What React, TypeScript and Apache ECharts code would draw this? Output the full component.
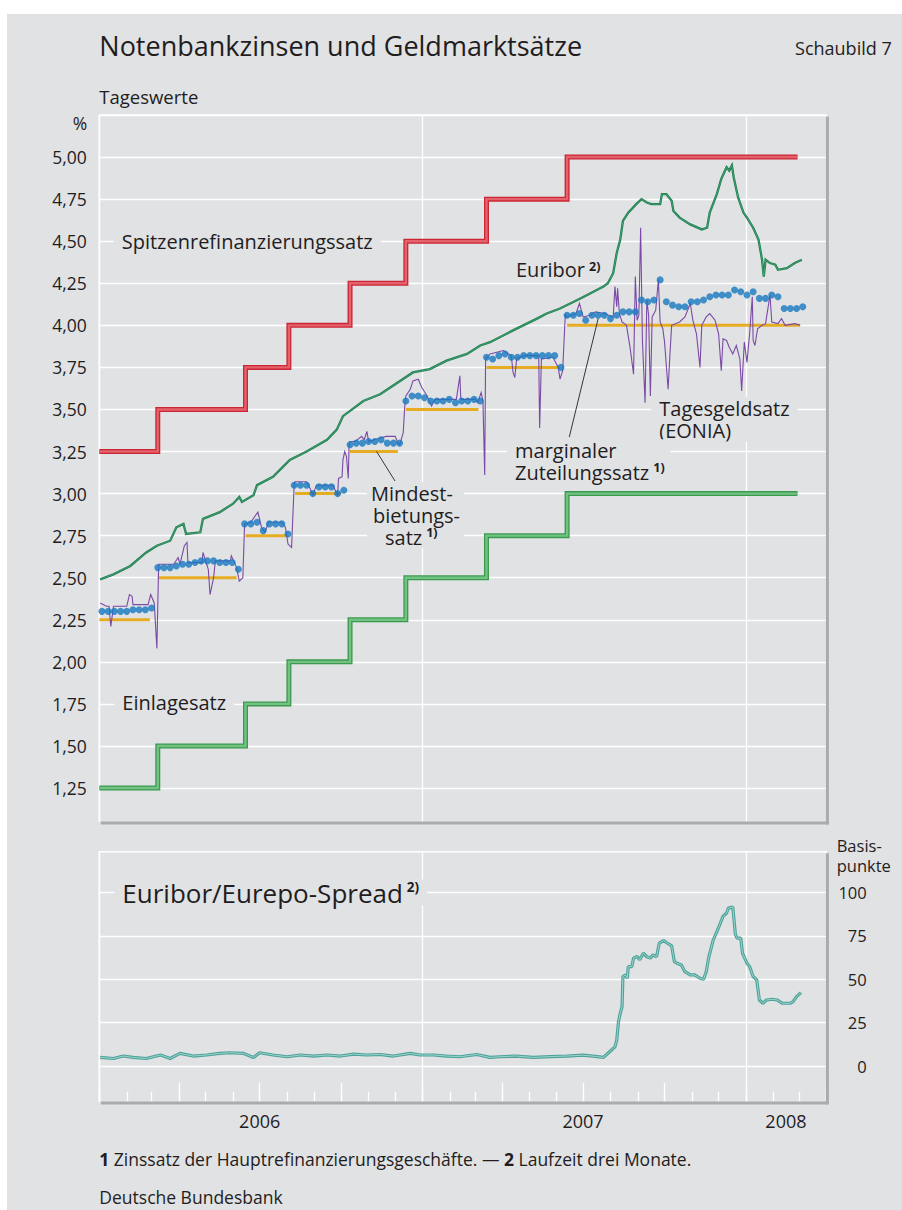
import React, { useEffect, useRef } from 'react';
import * as echarts from 'echarts';

const DAY_MS = 86400000;
const toTime = (s: string): number => {
  const [y, m, d] = s.split('-').map(Number);
  return Date.UTC(y, m - 1, d);
};

// ---- axis range ----
const AXIS_START = '2006-01-01';
const AXIS_END = '2008-04-01';
const T0 = toTime(AXIS_START);
const dayToTime = (n: number) => T0 + n * DAY_MS;

// ---- key ECB rates (%), step series ----
const rateChangeDates = ['2006-01-01', '2006-03-08', '2006-06-15', '2006-08-03', '2006-10-11', '2006-12-13', '2007-03-14', '2007-06-13'];
const rateSeriesEnd = '2008-02-28';
const marginalLendingRate = [3.25, 3.5, 3.75, 4.0, 4.25, 4.5, 4.75, 5.0];
const depositRate = [1.25, 1.5, 1.75, 2.0, 2.25, 2.5, 2.75, 3.0];

// ---- Mindestbietungssatz (minimum bid rate), segments ----
const minBidFrom = ['2006-01-01', '2006-03-08', '2006-06-15', '2006-08-10', '2006-10-11', '2006-12-13', '2007-03-14', '2007-06-13'];
const minBidTo = ['2006-02-27', '2006-06-05', '2006-08-01', '2006-10-01', '2006-12-04', '2007-03-05', '2007-06-05', '2008-03-02'];
const minBidRate = [2.25, 2.5, 2.75, 3.0, 3.25, 3.5, 3.75, 4.0];

// ---- marginaler Zuteilungssatz: weekly main refinancing tenders ----
const allotmentFirstDate = '2006-01-04';
const marginalAllotmentRate = [
  2.30, 2.30, 2.30, 2.30, 2.30, 2.31, 2.31, 2.31, 2.32,
  2.56, 2.56, 2.56, 2.57, 2.58, 2.58, 2.59, 2.60, 2.60, 2.60, 2.59, 2.59, 2.59, 2.55,
  2.82, 2.82, 2.83, 2.78, 2.82, 2.82, 2.82, 2.76,
  3.05, 3.05, 3.05, 3.00, 3.04, 3.04, 3.04, 3.00, 3.02,
  3.29, 3.30, 3.30, 3.31, 3.31, 3.32, 3.30, 3.30, 3.30,
  3.55, 3.58, 3.58, 3.57, 3.55, 3.55, 3.55, 3.56, 3.54, 3.55, 3.55, 3.56, 3.55,
  3.81, 3.80, 3.82, 3.83, 3.81, 3.81, 3.82, 3.82, 3.82, 3.82, 3.82, 3.82, 3.75,
  4.06, 4.06, 4.07, 4.03, 4.06, 4.06, 4.06, 4.04, 4.06, 4.08, 4.08, 4.08, 4.15,
  4.14, 4.15, 4.27, 4.14, 4.12, 4.11, 4.11, 4.14, 4.14, 4.15, 4.17, 4.18, 4.18,
  4.18, 4.21, 4.20, 4.18, 4.20, 4.16, 4.16, 4.18, 4.17, 4.10, 4.10, 4.10, 4.11,
];

// ---- Tagesgeldsatz (EONIA): [days since 1 Jan 2006, %] ----
const eonia: [number, number][] = [
  [1, 2.35], [8, 2.33], [11, 2.33], [13, 2.21], [16, 2.33], [31, 2.33], [34, 2.40], [37, 2.39], [38, 2.34], [55, 2.34], [58, 2.40], [62, 2.35], [65, 2.08], [67, 2.58],
  [84, 2.58], [89, 2.62], [91, 2.58], [96, 2.69], [99, 2.71], [100, 2.59], [116, 2.59], [117, 2.65], [123, 2.55], [125, 2.40], [129, 2.50], [131, 2.60], [148, 2.60], [149, 2.63], [155, 2.56], [158, 2.48], [162, 2.50], [164, 2.82],
  [171, 2.83], [179, 2.89], [183, 2.80], [187, 2.77], [191, 2.83], [206, 2.83], [210, 2.80], [213, 2.70], [217, 2.68], [220, 3.06],
  [221, 3.07], [234, 3.07], [238, 3.03], [241, 2.99], [245, 3.05], [264, 3.05], [267, 3.01], [269, 2.99], [270, 3.09], [274, 3.10], [275, 3.20], [277, 3.25], [279, 3.22], [281, 3.09], [282, 3.30],
  [283, 3.31], [289, 3.31], [296, 3.34], [299, 3.32], [302, 3.37], [304, 3.31], [317, 3.33], [324, 3.34], [334, 3.34], [337, 3.30], [339, 3.29], [343, 3.36], [345, 3.54],
  [346, 3.58], [351, 3.62], [354, 3.67], [360, 3.68], [364, 3.63], [370, 3.58], [375, 3.52], [379, 3.56], [403, 3.56], [407, 3.70], [408, 3.56], [424, 3.56], [427, 3.54], [431, 3.60], [433, 3.55], [435, 3.11], [436, 3.80],
  [441, 3.83], [456, 3.85], [465, 3.82], [467, 3.72], [469, 3.69], [471, 3.80], [479, 3.82], [494, 3.82], [496, 3.81], [497, 3.39], [499, 3.80], [512, 3.81], [518, 3.75], [520, 3.68], [523, 3.73], [526, 4.07],
  [527, 4.05], [533, 4.06], [538, 4.07], [542, 4.13], [546, 4.05], [554, 4.06], [560, 4.08], [570, 4.07], [580, 4.05], [582, 4.23], [584, 4.11], [585, 4.22], [587, 4.07], [590, 4.02], [595, 4.00], [599, 3.87], [603, 3.71],
  [605, 4.29], [607, 4.03], [609, 4.06], [611, 4.58], [613, 3.91], [616, 3.54], [618, 4.15], [620, 4.06], [622, 3.58], [624, 4.05], [628, 4.09], [631, 4.27], [633, 4.02], [636, 3.98], [638, 3.90], [642, 3.62], [644, 3.82],
  [646, 4.00], [655, 4.02], [661, 4.05], [667, 4.13], [670, 4.03], [674, 3.95], [678, 3.75], [680, 4.00], [685, 4.05], [689, 4.07], [695, 4.03], [699, 3.95], [702, 3.73], [704, 3.92], [708, 3.91], [711, 3.87], [715, 3.83],
  [719, 3.88], [723, 3.80], [725, 3.61], [728, 3.90], [731, 3.78], [734, 3.95], [737, 4.17], [738, 3.91], [740, 3.88], [743, 3.98], [748, 4.00], [752, 4.01], [757, 4.18], [759, 4.02], [766, 4.01], [770, 4.04], [774, 4.00], [785, 4.01], [791, 4.00],
];

// ---- Euribor (3 months): [days since 1 Jan 2006, %] ----
const euribor3m: [number, number][] = [
  [1, 2.49], [16, 2.52], [35, 2.57], [53, 2.65], [65, 2.69], [80, 2.72], [87, 2.80], [95, 2.82], [98, 2.76], [114, 2.77], [117, 2.85], [136, 2.89], [151, 2.94], [158, 2.98], [161, 2.95],
  [174, 2.99], [178, 3.05], [196, 3.10], [215, 3.20], [234, 3.25], [257, 3.32], [268, 3.38], [275, 3.46], [298, 3.55], [317, 3.59], [354, 3.72], [373, 3.74], [392, 3.79], [415, 3.83], [430, 3.88],
  [441, 3.90], [467, 3.97], [494, 4.04], [505, 4.07], [520, 4.10], [543, 4.16], [569, 4.23], [574, 4.25], [580, 4.31], [584, 4.43], [588, 4.51], [591, 4.62], [597, 4.67], [606, 4.72], [612, 4.75],
  [618, 4.73], [623, 4.72], [633, 4.72], [635, 4.78], [640, 4.78], [646, 4.74], [648, 4.68], [655, 4.64], [667, 4.60], [680, 4.57], [686, 4.58], [689, 4.67], [697, 4.78], [702, 4.87], [708, 4.94],
  [711, 4.92], [714, 4.95], [716, 4.88], [721, 4.76], [727, 4.67], [731, 4.64], [738, 4.58], [744, 4.51], [748, 4.39], [750, 4.29], [752, 4.39], [757, 4.37], [763, 4.36], [766, 4.33], [776, 4.34],
  [785, 4.37], [793, 4.39],
];

// ---- Euribor/Eurepo spread (basis points): [days since 1 Jan 2006, bp] ----
const spreadBp: [number, number][] = [
  [1, 5.0], [16, 4.4], [27, 5.8], [38, 5.0], [53, 4.4], [69, 6.4], [80, 4.4], [91, 7.3], [106, 5.8], [121, 6.4], [136, 7.3], [147, 7.7], [163, 7.3], [174, 5.0], [181, 7.7], [196, 6.4],
  [212, 5.4], [227, 6.4], [242, 5.8], [257, 6.4], [272, 5.8], [287, 6.9], [302, 6.4], [317, 6.7], [332, 5.8], [351, 7.3], [362, 6.4], [377, 6.4], [392, 5.8], [407, 5.4], [426, 6.7], [441, 5.0],
  [452, 5.4], [470, 5.8], [490, 5.0], [509, 5.5], [528, 5.8], [546, 6.3], [560, 5.6], [569, 5.0], [576, 8.3], [582, 11.1], [584, 15.0], [586, 25.6], [588, 30.4], [590, 34.2], [591, 51.6],
  [594, 52.5], [596, 50.6], [597, 57.3], [601, 57.3], [603, 62.2], [607, 63.1], [610, 61.2], [614, 65.0], [618, 63.0], [622, 62.2], [625, 64.1], [629, 63.0], [632, 70.8], [637, 72.3], [640, 71.2],
  [646, 69.3], [649, 60.2], [652, 59.3], [657, 58.3], [661, 54.4], [667, 52.5], [672, 52.5], [678, 50.6], [682, 50.0], [685, 54.4], [688, 63.0], [693, 72.7], [697, 77.5], [701, 82.4], [704, 86.2],
  [708, 88.2], [710, 91.0], [715, 91.6], [718, 75.6], [720, 73.7], [724, 73.7], [726, 65.0], [731, 59.3], [734, 57.3], [738, 51.6], [742, 49.7], [745, 38.1], [749, 36.2], [753, 38.1], [759, 38.5],
  [765, 38.1], [768, 37.1], [771, 36.2], [780, 36.2], [783, 37.1], [787, 40.0], [792, 42.3],
];

// ---- tick label texts ----
const yearLabels = ['2006', '2007', '2008'];
const yearLabelDates = ['2006-07-01', '2007-07-01', '2008-02-15'];

// ---- styling ----
const FONT = "'Open Sans', 'Noto Sans', 'DejaVu Sans', sans-serif";
const BG = '#e1e2e4';
const TEXT = '#1f1d1e';
const SHADOW = '#a9abae';
const RED_OUT = '#cc2533';
const RED_IN = '#e4626c';
const GREEN_OUT = '#3b9a4e';
const GREEN_IN = '#72c383';
const EUR_OUT = '#1c7c4e';
const EUR_IN = '#52ae80';
const ORANGE = '#e6ad22';
const BLUE = '#1679c0';
const PURPLE = '#7b4aa6';
const SPR_OUT = '#4ea29a';
const SPR_IN = '#9ad5cd';

const TOP_GRID = { left: 99.3, top: 115, width: 727.4, height: 706.7 };
const BOT_GRID = { left: 99.3, top: 851.7, width: 727.4, height: 250 };

const clear = 'rgba(0,0,0,0)';
const topLineColors = [clear, clear, clear, clear, '#ffffff'];
const botLineColors = Array.from({ length: 50 }, (_, i) => (i === 41 ? '#ffffff' : clear));

function stepData(rates: number[]) {
  const pts: [number, number][] = rateChangeDates.map((s, i) => [toTime(s), rates[i]]);
  pts.push([toTime(rateSeriesEnd), rates[rates.length - 1]]);
  return pts;
}

function minBidData() {
  const out: any[] = [];
  minBidFrom.forEach((f, i) => {
    out.push([toTime(f), minBidRate[i]], [toTime(minBidTo[i]), minBidRate[i]]);
    if (i < minBidFrom.length - 1) out.push([toTime(minBidTo[i]) + DAY_MS, '-']);
  });
  return out;
}

const weekTime = (k: number) => toTime(allotmentFirstDate) + k * 7 * DAY_MS;

function timeAxis(gridIndex: number, extra: any) {
  return {
    gridIndex,
    type: 'time',
    position: 'bottom',
    min: T0,
    max: toTime(AXIS_END),
    axisLine: { show: false, onZero: false },
    axisLabel: { show: false },
    axisTick: { show: false },
    splitLine: { show: false },
    ...extra,
  };
}

function buildOption(): any {
  const line = (name: string, data: any, color: string, width: number, z: number, extra: any = {}) => ({
    name,
    type: 'line',
    xAxisIndex: 0,
    yAxisIndex: 0,
    data,
    showSymbol: false,
    symbol: 'none',
    silent: true,
    z,
    lineStyle: { color, width, join: 'miter', cap: 'butt' },
    ...extra,
  });

  return {
    animation: false,
    useUTC: true,
    backgroundColor: '#ffffff',
    grid: [
      { ...TOP_GRID, containLabel: false, outerBoundsMode: 'none' },
      { ...BOT_GRID, containLabel: false, outerBoundsMode: 'none' },
    ],
    xAxis: [
      timeAxis(0, { minInterval: 365 * DAY_MS, maxInterval: 365 * DAY_MS, splitLine: { show: true, lineStyle: { color: '#ffffff', width: 1.3 } } }),
      timeAxis(1, { minInterval: 365 * DAY_MS, maxInterval: 365 * DAY_MS, splitLine: { show: true, lineStyle: { color: '#ffffff', width: 1.3 } } }),
      timeAxis(1, { minInterval: 31 * DAY_MS, maxInterval: 31 * DAY_MS, axisTick: { show: true, inside: true, length: 10, lineStyle: { color: '#ffffff', width: 1.3 } } }),
      timeAxis(1, { minInterval: 91 * DAY_MS, maxInterval: 91 * DAY_MS, axisTick: { show: true, inside: true, length: 19, lineStyle: { color: '#ffffff', width: 1.3 } } }),
    ],
    yAxis: [
      {
        gridIndex: 0,
        type: 'value',
        position: 'left',
        min: 1.05,
        max: 5.25,
        interval: 0.05,
        axisLine: { show: false },
        axisTick: { show: false },
        splitLine: { show: true, showMinLine: true, showMaxLine: true, lineStyle: { color: topLineColors, width: 1.3 } },
        axisLabel: {
          margin: 12.6,
          fontSize: 17.5,
          fontFamily: FONT,
          color: TEXT,
          formatter: (v: number) => {
            const r = Math.round(v * 100);
            if (r % 25 !== 0 || r < 125 || r > 500) return '';
            return (r / 100).toFixed(2).replace('.', ',');
          },
        },
      },
      {
        gridIndex: 1,
        type: 'value',
        position: 'right',
        min: -20.5,
        max: 123.5,
        interval: 0.5,
        axisLine: { show: false },
        axisTick: { show: false },
        splitLine: { show: true, showMinLine: true, showMaxLine: true, lineStyle: { color: botLineColors, width: 1.3 } },
        axisLabel: {
          margin: 40,
          align: 'right',
          fontSize: 16.5,
          fontFamily: FONT,
          color: TEXT,
          formatter: (v: number) => {
            const r = Math.round(v * 2);
            if (r % 50 !== 0 || r < 0 || r > 200) return '';
            return String(r / 2);
          },
        },
      },
    ],
    series: [
      line('Mindestbietungssatz', minBidData(), ORANGE, 3, 2),
      line('Euribor', euribor3m.map(([n, v]) => [dayToTime(n), v]), EUR_OUT, 2.3, 3),
      line('Euribor hl', euribor3m.map(([n, v]) => [dayToTime(n), v]), EUR_IN, 0.7, 3),
      line('Tagesgeldsatz (EONIA)', eonia.map(([n, v]) => [dayToTime(n), v]), PURPLE, 1.1, 3),
      line('Spitzenrefinanzierungssatz', stepData(marginalLendingRate), RED_OUT, 5, 4, { step: 'end' }),
      line('Spitzenrefinanzierungssatz hl', stepData(marginalLendingRate), RED_IN, 2.4, 4, { step: 'end' }),
      line('Einlagesatz', stepData(depositRate), GREEN_OUT, 5, 4, { step: 'end' }),
      line('Einlagesatz hl', stepData(depositRate), GREEN_IN, 2.4, 4, { step: 'end' }),
      {
        name: 'marginaler Zuteilungssatz',
        type: 'scatter',
        xAxisIndex: 0,
        yAxisIndex: 0,
        silent: true,
        z: 6,
        symbol: 'circle',
        symbolSize: 7,
        itemStyle: { color: BLUE },
        data: marginalAllotmentRate.map((v, k) => [weekTime(k), v]),
      },
      {
        name: 'Euribor/Eurepo-Spread',
        type: 'line',
        xAxisIndex: 1,
        yAxisIndex: 1,
        silent: true,
        showSymbol: false,
        symbol: 'none',
        z: 3,
        lineStyle: { color: SPR_OUT, width: 3.2 },
        data: spreadBp.map(([n, v]) => [dayToTime(n), v]),
      },
      {
        name: 'Euribor/Eurepo-Spread hl',
        type: 'line',
        xAxisIndex: 1,
        yAxisIndex: 1,
        silent: true,
        showSymbol: false,
        symbol: 'none',
        z: 3,
        lineStyle: { color: SPR_IN, width: 1 },
        data: spreadBp.map(([n, v]) => [dayToTime(n), v]),
      },
    ],
  };
}

function txt(text: string, x: number, y: number, size: number, opts: any = {}, z = 8): any {
  const { align = 'left', rich, backgroundColor, padding, lineHeight } = opts;
  const style: any = {
    text,
    fontSize: size,
    fontFamily: FONT,
    fill: TEXT,
    align,
    verticalAlign: 'middle',
  };
  if (lineHeight) style.lineHeight = lineHeight;
  if (rich) style.rich = rich;
  if (backgroundColor) style.backgroundColor = backgroundColor;
  if (padding) style.padding = padding;
  return { type: 'text', x, y, z, silent: true, style };
}

function sup(size: number, lh: number, supSize = 12.5) {
  return {
    a: { fontSize: size, fontFamily: FONT, fill: TEXT, lineHeight: lh },
    s: { fontSize: supSize, fontFamily: FONT, fontWeight: 'bold', fill: TEXT, lineHeight: supSize, verticalAlign: 'top', padding: [0, 0, 0, 4] },
  };
}

function hline(x1: number, y1: number, x2: number, y2: number, color: string, width: number, z: number): any {
  return { type: 'line', z, silent: true, shape: { x1, y1, x2, y2 }, style: { stroke: color, lineWidth: width } };
}

function buildGraphics(chart: echarts.ECharts): any[] {
  const xPx = (t: number) => chart.convertToPixel({ xAxisIndex: 1 } as any, t) as unknown as number;
  const pt = (t: number, v: number) => chart.convertToPixel({ xAxisIndex: 0, yAxisIndex: 0 } as any, [t, v]) as number[];

  const tR = TOP_GRID.left + TOP_GRID.width;
  const tB = TOP_GRID.top + TOP_GRID.height;
  const bB = BOT_GRID.top + BOT_GRID.height;

  const els: any[] = [];
  // page background
  els.push({ type: 'rect', z: -10, silent: true, shape: { x: 7, y: 14, width: 895, height: 1196 }, style: { fill: BG } });

  // panel borders
  [[TOP_GRID.top, tB], [BOT_GRID.top, bB]].forEach(([top, bottom]) => {
    els.push(hline(TOP_GRID.left, top, tR, top, '#ffffff', 1.4, 1));
    els.push(hline(TOP_GRID.left, top, TOP_GRID.left, bottom, '#ffffff', 1.4, 1));
    els.push(hline(TOP_GRID.left + 1.5, bottom + 1.2, tR + 2, bottom + 1.2, SHADOW, 3, 9));
    els.push(hline(tR + 0.7, top + 1.5, tR + 0.7, bottom + 2.7, SHADOW, 3, 9));
  });

  // headings
  els.push(txt('Notenbankzinsen und Geldmarktsätze', 99.3, 45, 27));
  els.push(txt('Schaubild 7', 891.7, 48.3, 18, { align: 'right' }));
  els.push(txt('Tageswerte', 99.3, 96.7, 18.5));
  els.push(txt('%', 72.7, 122.5, 17.5));
  els.push(txt('{u|Basis-}\n{u|punkte}', 836.7, 855, 16.5, { rich: { u: { fontSize: 16.5, fontFamily: FONT, fill: TEXT, lineHeight: 20 } } }));

  // in-chart labels
  const LH = 20;
  const boxed = { backgroundColor: BG, padding: [0, 8, 0, 8], lineHeight: LH };
  const r20 = (lh: number) => sup(20, lh);
  els.push(txt('Spitzenrefinanzierungssatz', 121.7 - 8, 241, 20, boxed, 1));
  els.push(txt('{a|Euribor}{s|2)}', 516, 269.7, 20, { rich: r20(LH), lineHeight: LH }));
  els.push(txt('{a|Tagesgeldsatz}\n{a|(EONIA)}', 659.3 - 8, 419.4, 20, { backgroundColor: BG, padding: [0, 8, 0, 8], rich: r20(22.7) }, 1));
  els.push(txt('{a|marginaler}\n{a|Zuteilungssatz}{s|1)}', 515 - 8, 461.3, 20, { backgroundColor: BG, padding: [0, 6, 0, 8], rich: r20(22) }, 1));
  const mRich = {
    ...r20(22),
    b: { fontSize: 20, fontFamily: FONT, fill: TEXT, lineHeight: 22, padding: [0, 0, 0, 2] },
    c: { fontSize: 20, fontFamily: FONT, fill: TEXT, lineHeight: 22, padding: [0, 0, 0, 14] },
  };
  els.push(txt('{a|Mindest-}\n{b|bietungs-}\n{c|satz}{s|1)}', 371 - 4, 515.3, 20, { backgroundColor: BG, padding: [0, 4, 0, 4], rich: mRich }, 1));
  els.push(txt('Einlagesatz', 122.3 - 8, 702.5, 20, boxed, 1));
  els.push(txt('{a|Euribor/Eurepo-Spread}{s|2)}', 122.3 - 8, 892.5, 26, { ...boxed, lineHeight: 26, rich: sup(26, 26, 13.5) }, 1));

  // leader lines
  const mb = pt(toTime('2006-11-10'), 3.25);
  els.push(hline(395, 481, mb[0], mb[1], '#222222', 0.9, 7));
  const ma = pt(weekTime(80), marginalAllotmentRate[80]);
  els.push(hline(569.3, 437, ma[0], ma[1] + 3.5, '#222222', 0.9, 7));

  // year labels
  yearLabels.forEach((lab, i) => {
    els.push(txt(lab, xPx(toTime(yearLabelDates[i])), 1120.5, 18, { align: 'center' }));
  });

  // footnotes
  els.push(
    txt('{b|1}{n| Zinssatz der Hauptrefinanzierungsgeschäfte. — }{b|2}{n| Laufzeit drei Monate.}', 99.3, 1158.8, 17.5, {
      rich: {
        b: { fontSize: 17.5, fontFamily: FONT, fontWeight: 'bold', fill: TEXT },
        n: { fontSize: 17.5, fontFamily: FONT, fill: TEXT },
      },
    })
  );
  els.push(txt('Deutsche Bundesbank', 99.3, 1197, 17.5));
  return els;
}

export default function App() {
  const ref = useRef<HTMLDivElement>(null);
  useEffect(() => {
    document.body.style.margin = '0';
    const el = ref.current!;
    const chart = echarts.init(el, undefined, { renderer: 'svg', width: 902, height: 1210 });
    chart.setOption(buildOption());
    chart.setOption({ graphic: { elements: buildGraphics(chart) } });
    return () => chart.dispose();
  }, []);
  return <div ref={ref} style={{ position: 'fixed', left: 0, top: 0, width: 902, height: 1210 }} />;
}
